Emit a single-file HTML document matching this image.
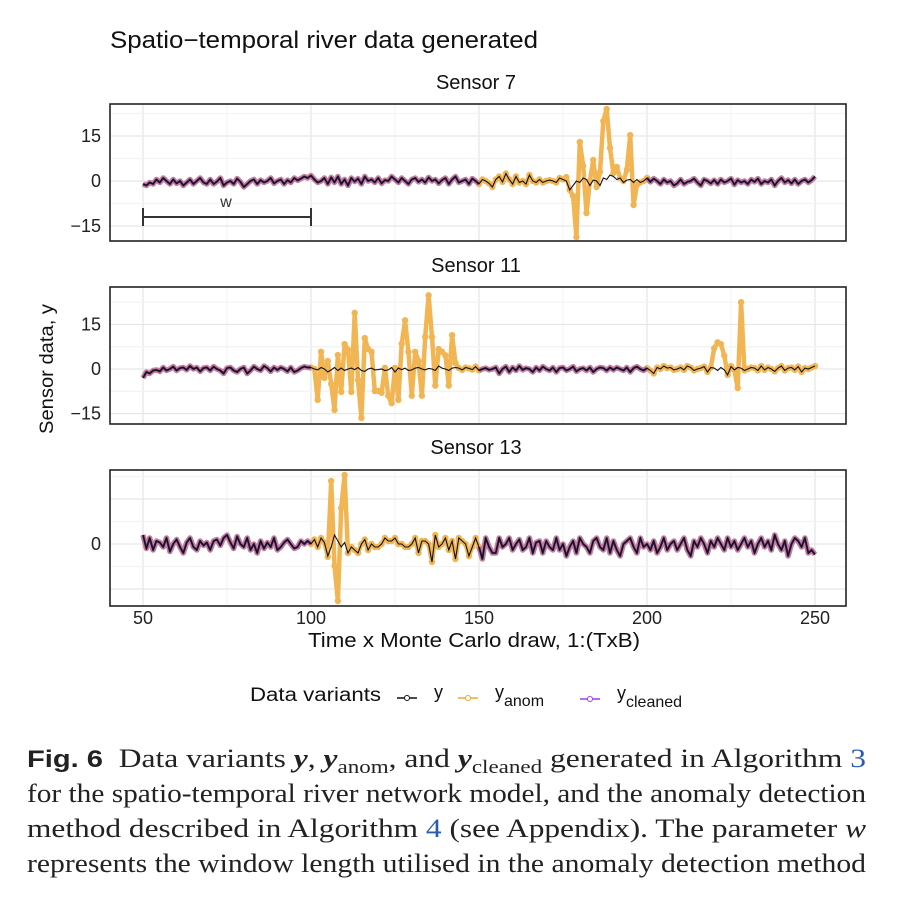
<!DOCTYPE html>
<html><head><meta charset="utf-8"><style>
body{margin:0;background:#fff;width:922px;height:898px;overflow:hidden;font-family:"Liberation Sans",sans-serif}
.cap{position:absolute;left:27px;font-family:"Liberation Serif",serif;font-size:26px;color:#222;white-space:nowrap;transform-origin:0 0}
</style></head><body>
<svg id="chart" width="922" height="898" style="position:absolute;left:0;top:0">
<text x="110" y="48" font-size="24" fill="#111" textLength="428" lengthAdjust="spacingAndGlyphs">Spatio−temporal river data generated</text>
<text transform="translate(53,369) rotate(-90)" text-anchor="middle" font-size="19" fill="#111" textLength="130" lengthAdjust="spacingAndGlyphs">Sensor data, y</text>
<text x="308" y="647" font-size="20" fill="#111" textLength="332" lengthAdjust="spacingAndGlyphs">Time x Monte Carlo draw, 1:(TxB)</text>
<g id="panels"></g>
<g>
<text x="250" y="701" font-size="19" fill="#111" textLength="131" lengthAdjust="spacingAndGlyphs">Data variants</text>
<line x1="397" y1="698" x2="417" y2="698" stroke="#111" stroke-width="1.5"/><circle cx="407" cy="698" r="2.5" fill="#fff" stroke="#111"/>
<text x="434" y="698" font-size="18" fill="#111">y</text>
<line x1="458" y1="698" x2="478" y2="698" stroke="#f0a830" stroke-width="1.5"/><circle cx="468" cy="698" r="2.5" fill="#fff" stroke="#f0a830"/>
<text x="495" y="698" font-size="18" fill="#111">y<tspan font-size="16" dy="8">anom</tspan></text>
<line x1="580" y1="699" x2="600" y2="699" stroke="#9a40e8" stroke-width="1.5"/><circle cx="590" cy="699" r="2.5" fill="#fff" stroke="#9a40e8"/>
<text x="617" y="699" font-size="18" fill="#111">y<tspan font-size="16" dy="8">cleaned</tspan></text>
</g>
</svg>
<div class="cap" style="top:744px"><b style="font-family:'Liberation Sans',sans-serif;font-size:24px">Fig. 6</b>&nbsp;&nbsp;Data variants <b><i>y</i></b>, <b><i>y</i></b><sub style="font-size:19px">anom</sub>, and <b><i>y</i></b><sub style="font-size:19px">cleaned</sub> generated in Algorithm <span style="color:#2a5db0">3</span></div>
<div class="cap" style="top:779px">for the spatio-temporal river network model, and the anomaly detection</div>
<div class="cap" style="top:814px">method described in Algorithm <span style="color:#2a5db0">4</span> (see Appendix). The parameter <i>w</i></div>
<div class="cap" style="top:849px">represents the window length utilised in the anomaly detection method</div>
<script>
const tStart = 50;
const xTicks = [50,100,150,200,250];
const s7Y = [-1,-1.5,-0.5,-1,0.5,-0.5,1,0,-1,0.5,-0.8,0,-1.5,-0.5,0.5,-1,0,1,-0.5,-1,
0.5,-1,-0.2,1,-1.5,-0.5,0,-1,0.8,-0.3,-2,-1,0,0.5,-1,0.3,-0.5,0,1,-0.8,
0,0.5,-1,0.3,-0.5,1,0.2,0.8,1.5,1,1.8,0.5,-0.5,0,1,-1,1.2,-0.5,1.5,-1,
0.5,-1.5,1,-0.2,0.8,-1,1.5,0,0.5,-0.5,1,-0.8,0.3,0,1.5,0.5,-0.5,1,0,-1,
0.5,1,-0.3,0.5,-0.5,1.2,0,0.5,-0.8,0.3,1,-1,0.5,1.5,-0.5,0,0.5,-1,0.8,0,
-1,0.5,0,-0.8,-2,0.5,1.5,-0.3,2.5,0.5,-1,1.5,-0.5,0,-1,2,0,-0.5,0.5,-0.5,
0,0.3,0,-0.5,1,0.5,0,-3,-1.5,0,-0.5,1,0.5,-1.5,0.3,0,-1.5,1,0.5,2,
1.5,0.5,1,-0.5,0.3,0.5,-0.5,0.5,-0.5,0,1,-0.3,0.8,0,-1,0.5,-0.5,0,-1.5,-0.8,
0.5,-1,-0.3,0,0.8,-0.5,-1.5,0.5,0,-0.8,0.3,-1,0.5,-0.5,0,0.8,-1.2,0.3,-0.5,0,
-1,0.5,-0.3,0.8,-1,0,-0.5,0.5,-1.5,0,1,-0.5,0.3,-0.8,0.5,-1,0,0.5,-0.5,0.3,1.5];
const s7AnomT = [176,177,178,179,180,181,182,183,184,185,186,187,188,189,190,191,192,193,194,195,196,197];
const s7AnomV = [1.3,-3,-5,-18.7,13,5,-10.7,0,7,-2,3,20,24,11,2.7,4.7,1,0,3.7,15.3,-8,-1.3];
const s7Windows = [[150,200]];
const s11Y = [-3,-1,-1.5,-0.5,-0.3,-0.8,0.5,-0.5,0,0.8,-0.5,0.3,0.5,-0.3,1,0,0.5,-0.8,0.3,0.5,
-0.5,0.8,0,-0.5,-1.5,0.3,0.5,-0.5,-1,0,0.5,-1.5,-0.5,0.8,0,-0.5,1,0.3,-0.8,0.5,
-0.3,0.5,0,-0.8,0.5,-1,-0.5,0.3,0.8,0.5,0.5,0,-0.3,0.5,0,-1,-0.3,0.5,-0.5,0.3,
-0.5,0,0.3,-0.2,0.5,-0.5,-0.8,0,0.3,-0.3,-0.2,0,-0.5,-0.3,0.5,-1,0.3,-0.2,0.3,-0.5,
-0.3,0.3,0.5,0,-0.3,0.2,0,-0.5,1,0.3,0,-0.5,0.3,0.5,0.3,-0.3,0.5,0.2,-0.2,0.8,
-0.5,0,0.3,-0.3,0,0.5,-1.5,0,0.8,-1,0.5,-0.5,1,-0.3,0.3,0,-1,0.5,-0.5,0.8,
0,-0.5,0.5,-1,0.3,0.5,-0.5,0,0.8,-0.8,0,0.3,-0.5,0.5,-1,0,0.5,0.3,-0.5,0.5,
-0.3,0.5,0,-0.5,0.5,-1,0.3,0.8,0,-0.5,0.3,-0.5,-1.5,0.5,0,1,0.3,0.5,-0.3,0,
0.5,-0.3,1,0.5,-0.5,0,0.3,0.8,-1,0.5,0.3,-0.5,0.5,-0.3,-2,0.8,-0.3,0.5,0.3,-0.5,
0,0.5,0.3,-0.5,1,-0.3,0.5,0,-0.8,0.3,1,-0.5,0.3,0.5,-0.3,0.8,-1,0.3,0,0.5,1];
const s11AnomT = [102,103,104,105,106,107,108,109,110,111,112,113,114,115,116,117,118,119,120,121,122,123,124,125,126,127,128,129,130,131,132,133,134,135,136,137,138,139,140,141,142,143,220,221,222,223,225,227,228];
const s11AnomV = [-10.4,5.8,-3,2.7,-5,-13.8,4.7,-7.7,8.4,6.5,-7.7,18.9,-3.7,-16.5,10.4,6.7,5.8,-7.4,-7.4,-8,0.4,-9,-11.5,0.4,-10.4,8.5,16.4,5.8,-9,5.8,2.7,-9,10.8,24.8,10.8,-5.6,6.7,5.8,4.6,-5.6,11.4,2,7,9,8.4,4.5,1,-6.4,22.5];
const s11Windows = [[100,150],[200,250]];
const s13Y = [3,-1.5,2,-2,1,0.5,-1,2,-2.5,0,1.5,-1,-3,0.5,2,-1,-2,1,-0.5,0.5,
-2,1,1.5,-0.5,2,3,0.5,-1.5,2.5,0,-1,2,-2,0,-3,1,-1.5,0.5,-1,2,
-2,-1,0.5,1.5,0,-1.5,-1,1,0,1,0,1.5,-1,2,0.5,-4,-1,3,1,-1,
0.5,-3,-1,-2,-3,0,1.5,-2,0,-1,-1,0,2,1,1,2,0,0,-1,-1,
0,2,-3,1,1,0,-6,3,-1,0,2,-2,1,-5,2,1,0,-4,-1,2,
-1,-5,2,-1,-3,-3,2,-1,0,2,-2,0,1.5,-2,-1,2,-3,0.5,1,-3,
1,-1,-2,2,-2,0,-4,-1,1,-3,2,0,-1,-3,1,2,-1,-2,2,-3,
1,-2,-4,0,1,2,-1,-3,2,-1,0,-2,1,-3,-1,2,-2,0,1,-2,
0,2,-2,-4,1,-1,2,0,-3,1,-1,2,0,-2,2,-1,1,-2,0,2,
-1,1,-3,0,2,-1,1,-2,3,0,-2,1,-4,0,2,1,-1,2,-3,-2,-3.5];
const s13AnomT = [105,106,107,108,109,110];
const s13AnomV = [-4.3,21,-7.3,-19,12,23];
const s13Windows = [[100,150]];

const NS='http://www.w3.org/2000/svg';
const X0=110,X1=846;
const xs=t=>143+(t-50)*3.36;
function mk(tag,attrs,parent){const e=document.createElementNS(NS,tag);for(const k in attrs)e.setAttribute(k,attrs[k]);parent.appendChild(e);return e;}
const panels=[
 {name:'sensor-7',title:'Sensor 7',top:104,bot:241,zero:181,k:3,yv:s7Y,at:s7AnomT,av:s7AnomV,win:s7Windows,ticks:[15,0,-15],tl:['15','0','−15'],ty:89},
 {name:'sensor-11',title:'Sensor 11',top:287,bot:424,zero:369,k:2.97,yv:s11Y,at:s11AnomT,av:s11AnomV,win:s11Windows,ticks:[15,0,-15],tl:['15','0','−15'],ty:272},
 {name:'sensor-13',title:'Sensor 13',top:470,bot:606,zero:544,k:3,yv:s13Y,at:s13AnomT,av:s13AnomV,win:s13Windows,ticks:[0],tl:['0'],ty:454}
];
const root=document.getElementById('panels');
panels.forEach((p,pi)=>{
 const g=mk('g',{},root);
 
 
 const ys=v=>p.zero-v*p.k;
 const tt=mk('text',{x:476,y:p.ty,'text-anchor':'middle','font-size':20,fill:'#111'},g);tt.textContent=p.title;
 
 
 for(let t=50;t<=250;t+=25){mk('line',{x1:xs(t),x2:xs(t),y1:p.top,y2:p.bot,stroke:t%50?'#f3f3f3':'#e6e6e6','stroke-width':t%50?1:1.3},g);}
 for(let v=-22.5;v<=30;v+=7.5){const y=ys(v);if(y>p.top&&y<p.bot)mk('line',{x1:X0,x2:X1,y1:y,y2:y,stroke:Math.abs(v%15)<0.01?'#e6e6e6':'#f3f3f3','stroke-width':1.2},g);}
 p.ticks.forEach((v,i)=>{const tx=mk('text',{x:101,y:ys(v)+6,'text-anchor':'end','font-size':18,fill:'#222'},g);tx.textContent=p.tl[i];
  
  });
 const base=p.yv, anom=base.slice();
 p.at.forEach((t,i)=>{anom[t-tStart]=p.av[i];});
 const inWin=t=>p.win.some(w=>t>=w[0]&&t<=w[1]);
 const pts=arr=>arr.map((v,i)=>xs(tStart+i).toFixed(1)+','+ys(v).toFixed(1));
 const clip='c'+pi;
 const cp=mk('clipPath',{id:clip},g);mk('rect',{x:X0,y:p.top,width:X1-X0,height:p.bot-p.top},cp);
 const dg=mk('g',{'clip-path':'url(#'+clip+')'},g);
 const ap=mk('polyline',{points:pts(anom).join(' '),fill:'none',stroke:'#f2b553','stroke-width':4.5,'stroke-linejoin':'round'},dg);
 
 
 anom.forEach((v,i)=>{if(inWin(tStart+i))mk('circle',{cx:xs(tStart+i),cy:ys(v),r:3.2,fill:'#f2b553'},dg);});
 let segs=[],cur=[];
 base.forEach((v,i)=>{const t=tStart+i;const edge=p.win.some(w=>t===w[0]||t===w[1]);
  if(!inWin(t)||edge){cur.push(xs(t).toFixed(1)+','+ys(v).toFixed(1));if(edge&&cur.length>1){segs.push(cur);cur=[];if(!inWin(t+1))cur.push(xs(t).toFixed(1)+','+ys(v).toFixed(1));}}
  else{if(cur.length>1)segs.push(cur);cur=[];}});
 if(cur.length>1)segs.push(cur);
 segs.forEach(s=>{const h=mk('polyline',{points:s.join(' '),fill:'none',stroke:'#c4809c','stroke-width':5.5,'stroke-linejoin':'round'},dg);
  
  
  mk('polyline',{points:s.join(' '),fill:'none',stroke:'#4a2570','stroke-width':2.2,'stroke-linejoin':'round'},dg);});
 const yl=mk('polyline',{points:pts(base).join(' '),fill:'none',stroke:'#111','stroke-width':1.1},dg);
 
 
 mk('rect',{x:X0,y:p.top,width:X1-X0,height:p.bot-p.top,fill:'none',stroke:'#222','stroke-width':1.6},g);
});
xTicks.forEach(t=>{const tx=mk('text',{x:xs(t),y:624,'text-anchor':'middle','font-size':18,fill:'#222'},root);tx.textContent=t;
 
 });
const wg=mk('g',{},root);


mk('line',{x1:xs(50),x2:xs(100),y1:217,y2:217,stroke:'#333','stroke-width':2},wg);
mk('line',{x1:xs(50),x2:xs(50),y1:208,y2:226,stroke:'#333','stroke-width':2},wg);
mk('line',{x1:xs(100),x2:xs(100),y1:208,y2:226,stroke:'#333','stroke-width':2},wg);
const wt=mk('text',{x:226,y:207,'text-anchor':'middle','font-size':16,fill:'#333'},wg);wt.textContent='w';
document.querySelectorAll('.cap').forEach(c=>{const w=c.getBoundingClientRect().width;c.style.transform='scaleX('+(839/w)+')';});
</script>
</body></html>
